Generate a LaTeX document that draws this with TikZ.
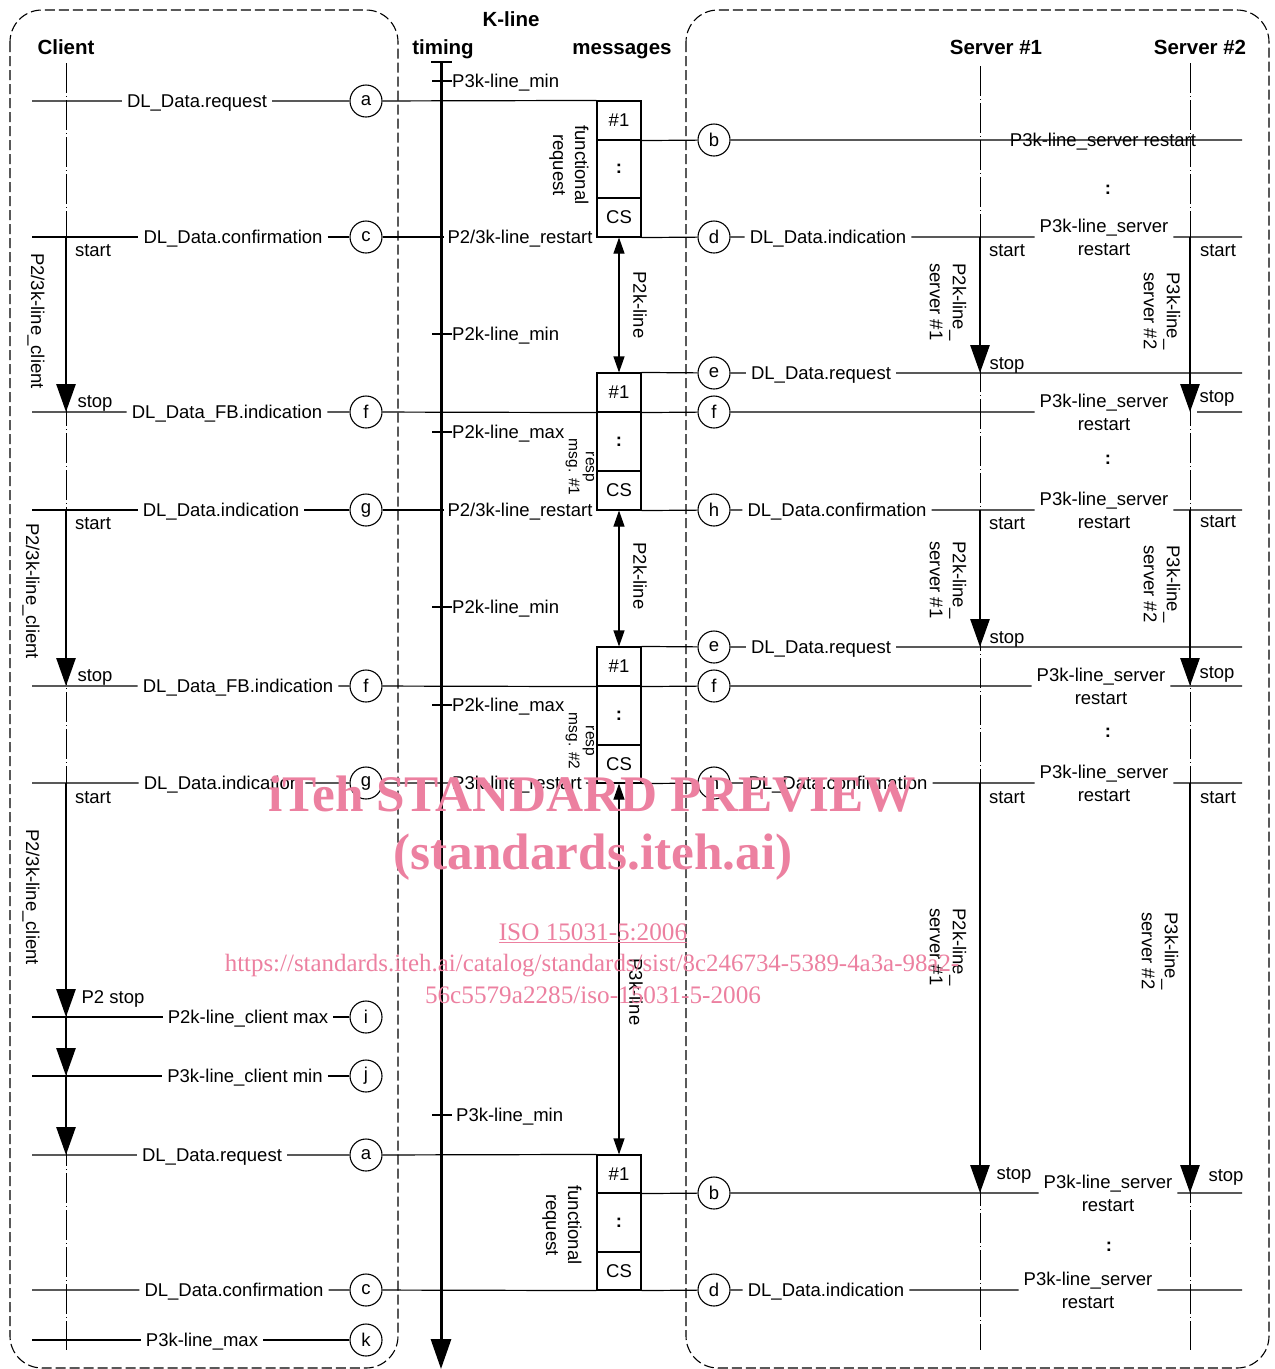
\documentclass[tikz,border=0pt]{standalone}
\usepackage{fontspec}
\setmainfont{Liberation Sans}
\newfontfamily\wmfont{Liberation Serif}
\usetikzlibrary{arrows.meta}
\definecolor{wmpink}{RGB}{236,128,160}
\newcommand\myfs{\fontsize{18.5}{23}\selectfont}
\newcommand\mysm{\fontsize{15.5}{17}\selectfont}
\newcommand\myhd{\fontsize{20.5}{24}\selectfont\bfseries}
\newcommand\mywmbig{\wmfont\bfseries\fontsize{51.3}{56}\selectfont}
\newcommand\mywmsm{\wmfont\fontsize{25.2}{30}\selectfont}
\newcommand\mywmurl{\wmfont\fontsize{24.9}{30}\selectfont}
\begin{document}
\begin{tikzpicture}[x=1pt,y=-1pt,
  every node/.style={font=\myfs},
  tx/.style={text height=13.2pt,text depth=0pt},
  lbl/.style={inner sep=5pt,tx},
  lbltwo/.style={inner sep=5pt,align=center},
  circ/.style={draw,circle,minimum size=32pt,inner sep=0pt,line width=1.1pt},
  cell/.style={draw,line width=1.1pt,minimum width=44pt,inner sep=0pt},
  boxout/.style={line width=1.8pt},
  life/.style={line width=1pt,dash pattern=on 30pt off 3pt on 1pt off 3pt},
  msg/.style={line width=1.2pt},
  timer/.style={line width=2.8pt,-{Triangle[width=19pt,length=28pt]}},
  dbl/.style={line width=1.1pt,{Triangle[width=11pt,length=16pt]}-{Triangle[width=11pt,length=16pt]}},
  outerbox/.style={line width=1.1pt,dash pattern=on 10pt off 4pt,rounded corners=32pt},
  rot/.style={rotate=-90,align=center,inner sep=0pt},
  rotl/.style={rotate=-90,align=left,inner sep=0pt},
  hdr/.style={font=\myhd,text height=14.7pt,text depth=0pt,inner sep=0pt},
  tk/.style={anchor=west,inner sep=0pt,tx},
  smallrot/.style={rotate=-90,align=center,inner sep=0pt,font=\mysm},
  wm/.style={text=wmpink,anchor=base}
]
\useasboundingbox (0,0) rectangle (1275,1369);

% frames
\draw[outerbox] (10,10) rectangle (398,1368);
\draw[outerbox] (686,10) rectangle (1269,1368);

% headers
\node[hdr] (hk) at (511,19) {K-line};
\node[hdr] (ht) at (443,47) {timing};
\node[hdr] (hm) at (622,47) {messages};
\node[hdr] (hc) at (66,47) {Client};
\node[hdr] (hs1) at (996,47) {Server \#1};
\node[hdr] (hs2) at (1200,47) {Server \#2};

% lifelines
\coordinate (clt) at (66,63);  \coordinate (clb) at (66,1350);
\coordinate (s1t) at (980,66); \coordinate (s1b) at (980,1350);
\coordinate (s2t) at (1190,63); \coordinate (s2b) at (1190,1350);
\draw[life] (clt) -- (clb);
\draw[life] (s1t) -- (s1b);
\draw[life] (s2t) -- (s2b);

% timing axis
\coordinate (axt) at (441,62); \coordinate (axb) at (441,1369);
\coordinate (capl) at (431,62); \coordinate (capr) at (452,62);
\draw[line width=3pt,-{Triangle[width=20pt,length=30pt]}] (axt) -- (axb);
\draw[line width=1.5pt] (capl) -- (capr);

% ticks
\coordinate (k1a) at (432,81);   \node[tk] (k1) at (452,81) {P3k-line\_min};
\coordinate (k2a) at (432,334);  \node[tk] (k2) at (452,334) {P2k-line\_min};
\coordinate (k3a) at (432,432);  \node[tk] (k3) at (452,432) {P2k-line\_max};
\coordinate (k4a) at (432,607);  \node[tk] (k4) at (452,607) {P2k-line\_min};
\coordinate (k5a) at (432,705);  \node[tk] (k5) at (452,705) {P2k-line\_max};
\coordinate (k6a) at (432,1115); \coordinate (k6b) at (452,1115);
\node[tk] (k6) at (456,1115) {P3k-line\_min};
\draw[msg] (k1a) -- (k1.west) (k2a) -- (k2.west) (k3a) -- (k3.west)
  (k4a) -- (k4.west) (k5a) -- (k5.west) (k6a) -- (k6b);

% message boxes
\node[cell,minimum height=39pt] (b1a) at (619,120.5) {\#1};
\node[cell,minimum height=58pt] (b1b) at (619,169) {\textbf{:}};
\node[cell,minimum height=39pt] (b1c) at (619,217.5) {CS};
\draw[boxout] (b1a.north west) rectangle (b1c.south east);
\node[cell,minimum height=39pt] (b2a) at (619,392.5) {\#1};
\node[cell,minimum height=59pt] (b2b) at (619,441.5) {\textbf{:}};
\node[cell,minimum height=39pt] (b2c) at (619,490.5) {CS};
\draw[boxout] (b2a.north west) rectangle (b2c.south east);
\node[cell,minimum height=39pt] (b3a) at (619,666.5) {\#1};
\node[cell,minimum height=59pt] (b3b) at (619,715.5) {\textbf{:}};
\node[cell,minimum height=38pt] (b3c) at (619,764) {CS};
\draw[boxout] (b3a.north west) rectangle (b3c.south east);
\node[cell,minimum height=38pt] (b4a) at (619,1174) {\#1};
\node[cell,minimum height=59pt] (b4b) at (619,1222.5) {\textbf{:}};
\node[cell,minimum height=38pt] (b4c) at (619,1271) {CS};
\draw[boxout] (b4a.north west) rectangle (b4c.south east);

\node[rot,font=\fontsize{18.5}{22}\selectfont] (fr1) at (569,165) {functional\\request};
\node[rot,font=\fontsize{18.5}{22}\selectfont] (fr2) at (562,1225) {functional\\request};
\node[smallrot] (rm1) at (580,467) {resp\\msg. \#1};
\node[smallrot] (rm2) at (580,741) {resp\\msg. \#2};

% double arrows
\draw[dbl] (b1c.south) -- (b2a.north);
\draw[dbl] (b2c.south) -- (b3a.north);
\draw[dbl] (b3c.south) -- (b4a.north);
\node[rot] (p2a) at (640,305) {P2k-line};
\node[rot] (p2b) at (640,576) {P2k-line};
\node[rot] (p3a) at (636,992) {P3k-line};

% ---- row a (101)
\coordinate (La) at (32,101);
\node[lbl] (ta) at (197,101) {DL\_Data.request};
\node[circ] (ca) at (366,101) {a};
\draw[msg] (La) -- (ta.west) (ta.east) -- (ca) (ca) -- (b1a.north west);

% ---- row b (140)
\node[circ] (cb) at (714,140) {b};
\coordinate (Rb) at (1242,140);
\draw[msg] (b1a.south east) -- (cb) (cb) -- (Rb);
\node[inner sep=0pt,tx] (sb) at (1103,140) {P3k-line\_server restart};
\node (col1) at (1108,190) {\textbf{:}};

% ---- row c/d (237)
\coordinate (Lc) at (32,237);
\node[lbl] (tc) at (233,237) {DL\_Data.confirmation};
\node[circ] (cc) at (366,237) {c};
\node[inner sep=3pt,tx] (rc) at (520,237) {P2/3k-line\_restart};
\draw[msg] (Lc) -- (tc.west) (tc.east) -- (cc) (cc) -- (rc.west);
\node[circ] (cd) at (714,237) {d};
\node[lbl] (td) at (828,237) {DL\_Data.indication};
\node[lbltwo] (sd) at (1104,237) {P3k-line\_server\\restart};
\coordinate (Rd) at (1242,237);
\draw[msg] (b1c.south east) -- (cd) (cd) -- (td.west) (td.east) -- (sd.west) (sd.east) -- (Rd);

% ---- row e (373)
\node[circ] (ce) at (714,373) {e};
\node[lbl] (te) at (821,373) {DL\_Data.request};
\coordinate (Re) at (1242,373);
\draw[msg] (b2a.north east) -- (ce) (ce) -- (te.west) (te.east) -- (Re);

% ---- row f (412)
\coordinate (Lf) at (32,412);
\node[lbl] (tf) at (227,412) {DL\_Data\_FB.indication};
\node[circ] (cf) at (366,412) {f};
\node[circ] (cfr) at (714,412) {f};
\node[lbltwo] (sf) at (1104,412) {P3k-line\_server\\restart};
\coordinate (Sf) at (1197,412); \coordinate (Rf) at (1242,412);
\draw[msg] (Lf) -- (tf.west) (tf.east) -- (cf) (cf) -- (b2a.south west)
  (b2a.south east) -- (cfr) (cfr) -- (sf.west) (Sf) -- (Rf);
\node (col2) at (1108,460) {\textbf{:}};

% ---- row g/h (510)
\coordinate (Lg) at (32,510);
\node[lbl] (tg) at (221,510) {DL\_Data.indication};
\node[circ] (cg) at (366,510) {g};
\node[inner sep=3pt,tx] (rg) at (520,510) {P2/3k-line\_restart};
\draw[msg] (Lg) -- (tg.west) (tg.east) -- (cg) (cg) -- (rg.west);
\node[circ] (ch) at (714,510) {h};
\node[lbl] (th) at (837,510) {DL\_Data.confirmation};
\node[lbltwo] (sh) at (1104,510) {P3k-line\_server\\restart};
\coordinate (Rh) at (1242,510);
\draw[msg] (b2c.south east) -- (ch) (ch) -- (th.west) (th.east) -- (sh.west) (sh.east) -- (Rh);

% ---- row e2 (647)
\node[circ] (ce2) at (714,647) {e};
\node[lbl] (te2) at (821,647) {DL\_Data.request};
\coordinate (Re2) at (1242,647);
\draw[msg] (b3a.north east) -- (ce2) (ce2) -- (te2.west) (te2.east) -- (Re2);

% ---- row f2 (686)
\coordinate (Lf2) at (32,686);
\node[lbl] (tf2) at (238,686) {DL\_Data\_FB.indication};
\node[circ] (cf2) at (366,686) {f};
\node[circ] (cf2r) at (714,686) {f};
\node[lbltwo] (sf2) at (1101,686) {P3k-line\_server\\restart};
\coordinate (Rf2) at (1242,686);
\draw[msg] (Lf2) -- (tf2.west) (tf2.east) -- (cf2) (cf2) -- (b3a.south west)
  (b3a.south east) -- (cf2r) (cf2r) -- (sf2.west) (sf2.east) -- (Rf2);
\node (col3) at (1108,733) {\textbf{:}};

% ---- row g2/h2 (783)
\coordinate (Lg2) at (32,783);
\node[lbl] (tg2) at (222,783) {DL\_Data.indication};
\node[circ] (cg2) at (366,783) {g};
\node[inner sep=4pt,tx] (rg2) at (517,783) {P3k-line\_restart};
\draw[msg] (Lg2) -- (tg2.west) (tg2.east) -- (cg2) (cg2) -- (rg2.west) (rg2.east) -- (b3c.south west);
\node[circ] (ch2) at (714,783) {h};
\node[lbl] (th2) at (838,783) {DL\_Data.confirmation};
\node[lbltwo] (sh2) at (1104,783) {P3k-line\_server\\restart};
\coordinate (Rh2) at (1242,783);
\draw[msg] (b3c.south east) -- (ch2) (ch2) -- (th2.west) (th2.east) -- (sh2.west) (sh2.east) -- (Rh2);

% ---- rows i, j (1017, 1076)
\coordinate (Li) at (32,1017);
\node[lbl] (ti) at (248,1017) {P2k-line\_client max};
\node[circ] (ci) at (366,1017) {i};
\draw[msg] (Li) -- (ti.west) (ti.east) -- (ci);
\coordinate (Lj) at (32,1076);
\node[lbl] (tj) at (245,1076) {P3k-line\_client min};
\node[circ] (cj) at (366,1076) {j};
\draw[msg] (Lj) -- (tj.west) (tj.east) -- (cj);

% ---- row a2 (1155)
\coordinate (La2) at (32,1155);
\node[lbl] (ta2) at (212,1155) {DL\_Data.request};
\node[circ] (ca2) at (366,1155) {a};
\draw[msg] (La2) -- (ta2.west) (ta2.east) -- (ca2) (ca2) -- (b4a.north west);

% ---- row b2 (1193)
\node[circ] (cb2) at (714,1193) {b};
\node[lbltwo] (sb2) at (1108,1193) {P3k-line\_server\\restart};
\coordinate (Rb2) at (1242,1193);
\draw[msg] (b4a.south east) -- (cb2) (cb2) -- (sb2.west) (sb2.east) -- (Rb2);
\node (col4) at (1109,1247) {\textbf{:}};

% ---- row c2/d2 (1290)
\coordinate (Lc2) at (32,1290);
\node[lbl] (tc2) at (234,1290) {DL\_Data.confirmation};
\node[circ] (cc2) at (366,1290) {c};
\node[circ] (cd2) at (714,1290) {d};
\node[lbl] (td2) at (826,1290) {DL\_Data.indication};
\node[lbltwo] (sd2) at (1088,1290) {P3k-line\_server\\restart};
\coordinate (Rd2) at (1242,1290);
\draw[msg] (Lc2) -- (tc2.west) (tc2.east) -- (cc2) (cc2) -- (b4c.south west)
  (b4c.south east) -- (cd2) (cd2) -- (td2.west) (td2.east) -- (sd2.west) (sd2.east) -- (Rd2);

% ---- row k (1340)
\coordinate (Lk) at (32,1340);
\node[lbl] (tk1) at (202,1340) {P3k-line\_max};
\node[circ] (ck) at (366,1340) {k};
\draw[msg] (Lk) -- (tk1.west) (tk1.east) -- (ck);

% ---- client timers
\coordinate (ct1s) at (66,237);  \coordinate (ct1e) at (66,412);
\coordinate (ct2s) at (66,510);  \coordinate (ct2e) at (66,686);
\coordinate (ct3s) at (66,783);  \coordinate (ct3a) at (66,1017);
\coordinate (ct3b) at (66,1076); \coordinate (ct3e) at (66,1155);
\draw[timer] (ct1s) -- (ct1e);
\draw[timer] (ct2s) -- (ct2e);
\draw[timer] (ct3s) -- (ct3a);
\draw[timer] (ct3a) -- (ct3b);
\draw[timer] (ct3b) -- (ct3e);
\node[tx] (cst1) at (93,250) {start};
\node[tx] (csp1) at (95,401) {stop};
\node[tx] (cst2) at (93,523) {start};
\node[tx] (csp2) at (95,675) {stop};
\node[tx] (cst3) at (93,797) {start};
\node[tx] (csp3) at (113,997) {P2 stop};
\node[rot] (cl1) at (36,321) {P2/3k-line\_client};
\node[rot] (cl2) at (31,591) {P2/3k-line\_client};
\node[rot] (cl3) at (31,897) {P2/3k-line\_client};

% ---- server 1 timers
\coordinate (a1s) at (980,237);  \coordinate (a1e) at (980,373);
\coordinate (a2s) at (980,510);  \coordinate (a2e) at (980,647);
\coordinate (a3s) at (980,783);  \coordinate (a3e) at (980,1193);
\draw[timer] (a1s) -- (a1e);
\draw[timer] (a2s) -- (a2e);
\draw[timer] (a3s) -- (a3e);
\node[tx] (s1st1) at (1007,250) {start};
\node[tx] (s1sp1) at (1007,363) {stop};
\node[tx] (s1st2) at (1007,523) {start};
\node[tx] (s1sp2) at (1007,637) {stop};
\node[tx] (s1st3) at (1007,797) {start};
\node[tx] (s1sp3) at (1014,1173) {stop};
\node[rotl] (s1l1) at (948,302) {P2k-line\_\\server \#1};
\node[rotl] (s1l2) at (948,580) {P2k-line\_\\server \#1};
\node[rotl] (s1l3) at (948,947) {P2k-line\_\\server \#1};

% ---- server 2 timers
\coordinate (d1s) at (1190,237);  \coordinate (d1e) at (1190,412);
\coordinate (d2s) at (1190,510);  \coordinate (d2e) at (1190,686);
\coordinate (d3s) at (1190,783);  \coordinate (d3e) at (1190,1193);
\draw[timer] (d1s) -- (d1e);
\draw[timer] (d2s) -- (d2e);
\draw[timer] (d3s) -- (d3e);
\node[tx] (s2st1) at (1218,250) {start};
\node[tx] (s2sp1) at (1217,396) {stop};
\node[tx] (s2st2) at (1218,521) {start};
\node[tx] (s2sp2) at (1217,672) {stop};
\node[tx] (s2st3) at (1218,797) {start};
\node[tx] (s2sp3) at (1226,1175) {stop};
\node[rotl] (s2l1) at (1162,311) {P3k-line\_\\server \#2};
\node[rotl] (s2l2) at (1162,584) {P3k-line\_\\server \#2};
\node[rotl] (s2l3) at (1160,951) {P3k-line\_\\server \#2};

% ---- watermark
\node[wm,font=\mywmbig] (w1) at (592,811) {iTeh STANDARD PREVIEW};
\node[wm,font=\mywmbig] (w2) at (593,869) {(standards.iteh.ai)};
\node[wm,font=\mywmsm] (w3) at (593,940) {\underline{ISO 15031-5:2006}};
\node[wm,font=\mywmurl] (w4) at (592,971) {https://standards.iteh.ai/catalog/standards/sist/8c246734-5389-4a3a-98a2-};
\node[wm,font=\mywmsm] (w5) at (593,1003) {56c5579a2285/iso-15031-5-2006};
\end{tikzpicture}
\end{document}
